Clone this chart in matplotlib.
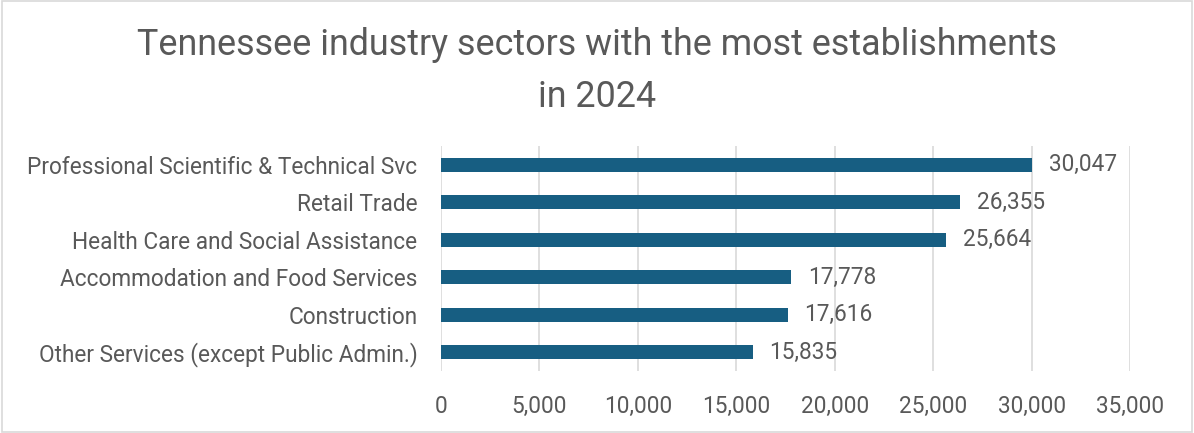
import matplotlib.pyplot as plt
from matplotlib.patches import Rectangle

sectors = ['Professional Scientific & Technical Svc', 'Retail Trade',
           'Health Care and Social Assistance', 'Accommodation and Food Services',
           'Construction', 'Other Services (except Public Admin.)']
establishments = [30047, 26355, 25664, 17778, 17616, 15835]
xticks = [0, 5000, 10000, 15000, 20000, 25000, 30000, 35000]

plt.rcParams['font.family'] = ['Roboto', 'DejaVu Sans']
txt = '#595959'

fig = plt.figure(figsize=(11.94, 4.33), dpi=100)
ax = fig.add_axes([0.3693, 0.1432, 0.9464 - 0.3693, 0.6628 - 0.1432])

ypos = list(range(len(sectors)))
ax.barh(ypos, establishments, height=0.38, color='#175E82', zorder=3)
for y, v in zip(ypos, establishments):
    ax.text(v + 850, y, f'{v:,}', va='center', ha='left', fontsize=16.3, color=txt)

ax.set_yticks(ypos)
ax.set_yticklabels(sectors, fontsize=16.3, color=txt)
ax.set_ylim(len(sectors) - 0.5, -0.5)
ax.set_xlim(0, 35000)
ax.set_xticks(xticks)
ax.set_xticklabels([f'{t:,}' for t in xticks], fontsize=16.3, color=txt)
ax.tick_params(length=0)
ax.tick_params(axis='x', pad=17)
ax.tick_params(axis='y', pad=17)
ax.grid(axis='x', color='#D9D9D9', linewidth=1.2, zorder=0)
for s in ax.spines.values():
    s.set_visible(False)

fig.text(0.5, 0.836, 'Tennessee industry sectors with the most establishments\nin 2024',
         ha='center', va='center', fontsize=25.8, color=txt, linespacing=1.55)

fig.patches.append(Rectangle((0.002, 0.003), 0.996, 0.994, transform=fig.transFigure,
                             fill=False, edgecolor='#D9D9D9', linewidth=1.2))

fig.savefig('out.png', dpi=100)
